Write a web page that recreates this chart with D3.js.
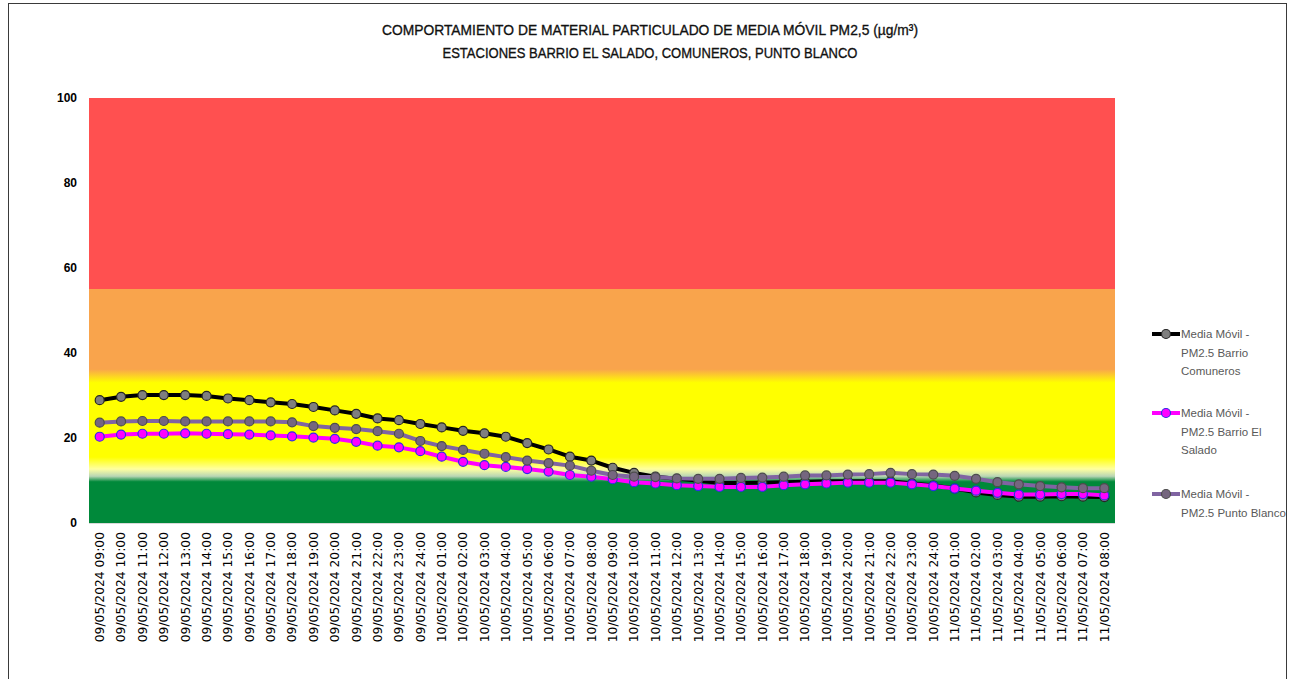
<!DOCTYPE html>
<html lang="es">
<head>
    <meta charset="UTF-8">
    <title>Media Móvil PM2,5</title>
    <script src="https://d3js.org/d3.v7.min.js"></script>
    <style>
        body { margin: 0; background: #fff; }
        svg { display: block; }
    </style>
</head>
<body>
<svg width="1291" height="679"></svg>
<script>
    // etiquetas del eje x (48 horas)
    const labels = [
        "09/05/2024 09:00", "09/05/2024 10:00", "09/05/2024 11:00", "09/05/2024 12:00",
        "09/05/2024 13:00", "09/05/2024 14:00", "09/05/2024 15:00", "09/05/2024 16:00",
        "09/05/2024 17:00", "09/05/2024 18:00", "09/05/2024 19:00", "09/05/2024 20:00",
        "09/05/2024 21:00", "09/05/2024 22:00", "09/05/2024 23:00", "09/05/2024 24:00",
        "10/05/2024 01:00", "10/05/2024 02:00", "10/05/2024 03:00", "10/05/2024 04:00",
        "10/05/2024 05:00", "10/05/2024 06:00", "10/05/2024 07:00", "10/05/2024 08:00",
        "10/05/2024 09:00", "10/05/2024 10:00", "10/05/2024 11:00", "10/05/2024 12:00",
        "10/05/2024 13:00", "10/05/2024 14:00", "10/05/2024 15:00", "10/05/2024 16:00",
        "10/05/2024 17:00", "10/05/2024 18:00", "10/05/2024 19:00", "10/05/2024 20:00",
        "10/05/2024 21:00", "10/05/2024 22:00", "10/05/2024 23:00", "10/05/2024 24:00",
        "11/05/2024 01:00", "11/05/2024 02:00", "11/05/2024 03:00", "11/05/2024 04:00",
        "11/05/2024 05:00", "11/05/2024 06:00", "11/05/2024 07:00", "11/05/2024 08:00"
    ];

    const comuneros = [
        28.9, 29.7, 30.1, 30.1, 30.1, 29.9, 29.3, 28.9, 28.4, 28.0, 27.3, 26.5,
        25.7, 24.6, 24.2, 23.3, 22.5, 21.7, 21.1, 20.3, 18.8, 17.3, 15.6, 14.7,
        13.0, 11.8, 10.9, 10.4, 10.0, 9.4, 9.4, 9.5, 9.6, 9.7, 9.8, 9.8,
        9.8, 9.8, 9.3, 8.8, 8.1, 7.2, 6.6, 6.2, 6.2, 6.3, 6.2, 6.1
    ];
    const elSalado = [
        20.3, 20.8, 21.0, 21.0, 21.1, 21.0, 20.9, 20.8, 20.6, 20.4, 20.1, 19.8,
        19.1, 18.2, 17.8, 16.9, 15.6, 14.4, 13.6, 13.2, 12.7, 12.1, 11.3, 10.9,
        10.3, 9.6, 9.3, 8.9, 8.7, 8.5, 8.5, 8.5, 8.9, 9.1, 9.3, 9.5,
        9.5, 9.5, 9.1, 8.7, 8.1, 7.6, 7.1, 6.7, 6.7, 6.8, 6.8, 6.5
    ];
    const puntoBlanco = [
        23.6, 23.9, 24.0, 24.0, 23.9, 23.9, 23.9, 23.9, 23.9, 23.7, 22.8, 22.4,
        22.1, 21.6, 21.0, 19.3, 18.1, 17.2, 16.3, 15.5, 14.7, 14.1, 13.5, 12.3,
        11.3, 10.9, 10.8, 10.5, 10.4, 10.4, 10.6, 10.7, 10.9, 11.2, 11.2, 11.4,
        11.5, 11.8, 11.5, 11.4, 11.1, 10.4, 9.6, 9.1, 8.7, 8.4, 8.2, 8.2
    ];

    // rangos ICA PM2.5 usados para el fondo
    const limiteRojo = 55;
    const limiteNaranja = 34.5;
    const limiteVerde = 11.5;

    const yTicks = [0, 20, 40, 60, 80, 100];

    const series = [
        { name: ["Media Móvil -", "PM2.5 Barrio", "Comuneros"], values: comuneros,
          line: "#000000", fill: "#7f7f7f", stroke: "#262626" },
        { name: ["Media Móvil -", "PM2.5 Barrio El", "Salado"], values: elSalado,
          line: "#ff00ff", fill: "#ff00ff", stroke: "#2e2ee6" },
        { name: ["Media Móvil -", "PM2.5 Punto Blanco"], values: puntoBlanco,
          line: "#8064a2", fill: "#75667f", stroke: "#4d4d4d" }
    ];

    const svg = d3.select("svg");
    const W = 1291, H = 679;
    const plot = { left: 89, right: 1115, top: 98, bottom: 523 };

    svg.append("rect").attr("width", W).attr("height", H).attr("fill", "#fff");
    svg.append("rect")
        .attr("x", 8.5).attr("y", 3.5)
        .attr("width", 1278).attr("height", 700)
        .attr("fill", "none").attr("stroke", "#3a3a3a").attr("stroke-width", 1);

    const x = d3.scaleBand().domain(labels).range([plot.left, plot.right]);
    const y = d3.scaleLinear().domain([0, 100]).range([plot.bottom, plot.top]);
    const cx = d => x(d) + x.bandwidth() / 2;

    // degradado de fondo (estilo Excel)
    const off = v => (100 - v) / 100;
    const grad = svg.append("defs").append("linearGradient")
        .attr("id", "bandas")
        .attr("gradientUnits", "userSpaceOnUse")
        .attr("x1", 0).attr("x2", 0)
        .attr("y1", y(100)).attr("y2", y(0));
    [
        [100, "#ff5050"], [limiteRojo, "#ff5050"], [limiteRojo, "#f9a44c"],
        [limiteNaranja + 1.7, "#f9a44c"], [limiteNaranja - 1.5, "#ffff00"],
        [limiteVerde + 4, "#ffff00"], [limiteVerde + 1.2, "#ffffa0"],
        [limiteVerde - 0.5, "#b9d6b4"], [limiteVerde - 1.8, "#00893a"], [0, "#00893a"]
    ].forEach(s => grad.append("stop").attr("offset", off(s[0])).attr("stop-color", s[1]));

    svg.append("rect")
        .attr("x", plot.left).attr("y", plot.top)
        .attr("width", plot.right - plot.left).attr("height", plot.bottom - plot.top)
        .attr("fill", "url(#bandas)");

    svg.append("line")
        .attr("x1", plot.left).attr("x2", plot.right)
        .attr("y1", plot.bottom + 0.5).attr("y2", plot.bottom + 0.5)
        .attr("stroke", "#d9d9d9");

    // eje y
    const yAxis = svg.append("g")
        .attr("transform", `translate(${plot.left},0)`)
        .call(d3.axisLeft(y).tickValues(yTicks).tickSize(0).tickPadding(12));
    yAxis.select(".domain").remove();
    yAxis.selectAll("text")
        .attr("font-family", "Liberation Sans, Arial, sans-serif")
        .attr("font-size", 12).attr("font-weight", "bold").attr("fill", "#000");

    // eje x
    const xAxis = svg.append("g")
        .attr("transform", `translate(0,${plot.bottom})`)
        .call(d3.axisBottom(x).tickSize(0));
    xAxis.select(".domain").remove();
    xAxis.selectAll("text")
        .attr("font-family", "DejaVu Sans, sans-serif")
        .attr("font-size", 12.3).attr("fill", "#000")
        .attr("text-anchor", "end")
        .attr("transform", "rotate(-90)")
        .attr("x", -9).attr("y", 0).attr("dy", "0.35em");

    // series
    const line = d3.line().x((d, i) => cx(labels[i])).y(d => y(d));
    series.forEach(s => {
        svg.append("path")
            .datum(s.values)
            .attr("d", line)
            .attr("fill", "none")
            .attr("stroke", s.line)
            .attr("stroke-width", 4)
            .attr("stroke-linejoin", "round");
        svg.append("g").selectAll("circle")
            .data(s.values)
            .join("circle")
            .attr("cx", (d, i) => cx(labels[i]))
            .attr("cy", d => y(d))
            .attr("r", 4.5)
            .attr("fill", s.fill)
            .attr("stroke", s.stroke)
            .attr("stroke-width", 1.2);
    });

    // título
    const title = [
        ["COMPORTAMIENTO DE MATERIAL PARTICULADO DE MEDIA MÓVIL PM2,5 (µg/m³)", 35, 536],
        ["ESTACIONES BARRIO EL SALADO, COMUNEROS, PUNTO BLANCO", 58, 415]
    ];
    title.forEach(t => {
        svg.append("text")
            .attr("x", 650).attr("y", t[1])
            .attr("text-anchor", "middle")
            .attr("font-family", "Liberation Sans, Arial, sans-serif")
            .attr("font-size", 15.5).attr("fill", "#111")
            .attr("stroke", "#111").attr("stroke-width", 0.35)
            .attr("textLength", t[2]).attr("lengthAdjust", "spacingAndGlyphs")
            .text(t[0]);
    });

    // leyenda
    const legendY = [334, 413, 494];
    series.forEach((s, i) => {
        const g = svg.append("g").attr("transform", `translate(1152,${legendY[i]})`);
        g.append("line").attr("x1", 0).attr("x2", 28).attr("y1", 0).attr("y2", 0)
            .attr("stroke", s.line).attr("stroke-width", 4);
        g.append("circle").attr("cx", 14).attr("cy", 0).attr("r", 4.5)
            .attr("fill", s.fill).attr("stroke", s.stroke).attr("stroke-width", 1.2);
        s.name.forEach((t, j) => {
            g.append("text")
                .attr("x", 29).attr("y", j * 18.5)
                .attr("dy", "0.35em")
                .attr("font-family", "Liberation Sans, Arial, sans-serif")
                .attr("font-size", 11.5).attr("fill", "#595959")
                .text(t);
        });
    });
</script>
</body>
</html>
